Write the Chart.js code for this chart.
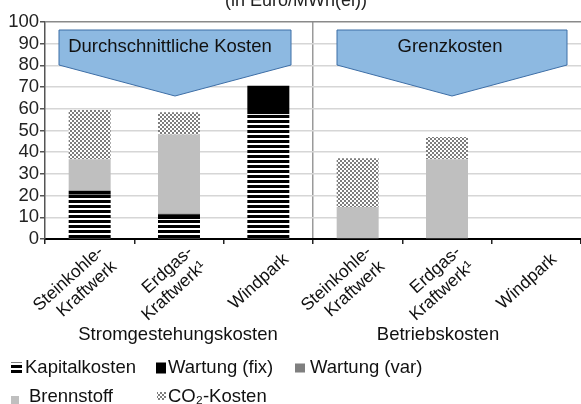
<!DOCTYPE html>
<html>
<head>
<meta charset="utf-8">
<script src="https://cdn.jsdelivr.net/npm/chart.js@4.4.1/dist/chart.umd.min.js"></script>
<style>
  html, body { margin: 0; padding: 0; background: #fff; }
</style>
</head>
<body>
<canvas id="kosten_chart" width="581" height="404"></canvas>
<script>
// data (Euro/MWh(el))
const categories = [['Steinkohle-', 'Kraftwerk'], ['Erdgas-', 'Kraftwerk¹'], 'Windpark',
                    ['Steinkohle-', 'Kraftwerk'], ['Erdgas-', 'Kraftwerk¹'], 'Windpark'];
const groupLabels = ['Stromgestehungskosten', 'Betriebskosten'];
const kapitalkosten = [20.4, 9.2, 57.5, 0, 0, 0];
const wartungFix    = [1.7, 2.2, 13.1, 0, 0, 0];
const wartungVar    = [0.4, 0.4, 0, 0.4, 0.4, 0];
const brennstoff    = [14.3, 36.3, 0, 14.3, 36.3, 0];
const co2Kosten     = [22.7, 10.3, 0, 22.5, 10.3, 0];
const yTicks = [0, 10, 20, 30, 40, 50, 60, 70, 80, 90, 100];
const calloutLabels = ['Durchschnittliche Kosten', 'Grenzkosten'];
const unitLabel = '(in Euro/MWh(el))';

const FONT = '"Liberation Sans", Arial, sans-serif';
const canvas = document.getElementById('kosten_chart');
const ctx = canvas.getContext('2d');

const makePattern = (w, h, draw) => {
  const c = document.createElement('canvas');
  c.width = w; c.height = h;
  draw(c.getContext('2d'));
  return ctx.createPattern(c, 'repeat');
};
const stripes = makePattern(4, 5, g => {
  g.fillStyle = '#fff'; g.fillRect(0, 0, 4, 5);
  g.fillStyle = '#000'; g.fillRect(0, 0, 4, 3);
});
const checker = makePattern(4, 4, g => {
  g.fillStyle = '#fff'; g.fillRect(0, 0, 4, 4);
  g.fillStyle = '#7d7d7d'; g.fillRect(0, 0, 2, 2); g.fillRect(2, 2, 2, 2);
});

// blue arrow boxes + unit line at the top
const callouts = {
  id: 'callouts',
  afterDatasetsDraw(chart) {
    const c = chart.ctx;
    const boxes = [
      {l: 59, r: 291, tip: 175, tx: 170, text: calloutLabels[0]},
      {l: 337, r: 567, tip: 452, tx: 450, text: calloutLabels[1]}
    ];
    c.save();
    boxes.forEach(b => {
      c.beginPath();
      c.moveTo(b.l, 30); c.lineTo(b.r, 30); c.lineTo(b.r, 65);
      c.lineTo(b.tip, 96); c.lineTo(b.l, 65); c.closePath();
      c.fillStyle = '#8db9e1';
      c.fill();
      c.strokeStyle = '#3d6ea6';
      c.lineWidth = 1;
      c.stroke();
      c.fillStyle = '#111';
      c.font = '18.5px ' + FONT;
      c.textAlign = 'center';
      c.textBaseline = 'middle';
      c.fillText(b.text, b.tx, 47);
    });
    c.restore();
  },
  afterDraw(chart) {
    const c = chart.ctx;
    c.save();
    c.fillStyle = '#222';
    c.font = '18px ' + FONT;
    c.textAlign = 'center';
    c.textBaseline = 'alphabetic';
    c.fillText(unitLabel, 296, 6);
    // group names under the axis
    c.fillStyle = '#111';
    c.font = '18.5px ' + FONT;
    c.textBaseline = 'middle';
    c.fillText(groupLabels[0], 178, 335);
    c.fillText(groupLabels[1], 438, 335);
    c.restore();
  }
};

// slanted category names, block centred under each tick
const slantedLabels = {
  id: 'slantedLabels',
  afterDraw(chart) {
    const sx = chart.scales.x;
    const c = chart.ctx;
    const lh = 20;
    c.save();
    c.font = '17.5px ' + FONT;
    c.fillStyle = '#111';
    c.textAlign = 'right';
    c.textBaseline = 'middle';
    sx.ticks.forEach((t, i) => {
      const lines = [].concat(chart.data.labels[i]);
      c.save();
      c.translate(sx.getPixelForTick(i) + 18, sx.top + 18);
      c.rotate(-42 * Math.PI / 180);
      lines.forEach((ln, j) => c.fillText(ln, 0, (j - (lines.length - 1) / 2) * lh));
      c.restore();
    });
    c.restore();
  }
};

// legend in two rows like the original
const legendRows = {
  id: 'legendRows',
  afterDraw(chart) {
    const c = chart.ctx;
    const slots = [
      {x: 11, y: 368, w: 11, h: 11, t: 25},
      {x: 156, y: 368, w: 10, h: 11, t: 168},
      {x: 295, y: 368, w: 10, h: 9, t: 310},
      {x: 11, y: 400, w: 8, h: 8, t: 29},
      {x: 157, y: 396, w: 9, h: 8, t: 168}
    ];
    c.save();
    c.font = '18.5px ' + FONT;
    c.textBaseline = 'middle';
    c.textAlign = 'left';
    chart.data.datasets.forEach((ds, i) => {
      const s = slots[i];
      c.fillStyle = ds.backgroundColor;
      c.fillRect(s.x, s.y - s.h / 2, s.w, s.h);
      c.fillStyle = '#111';
      c.fillText(ds.label, s.t, i < 3 ? s.y : 397);
    });
    c.restore();
  }
};

new Chart(canvas, {
  type: 'bar',
  data: {
    labels: categories,
    datasets: [
      {label: 'Kapitalkosten', data: kapitalkosten, backgroundColor: stripes},
      {label: 'Wartung (fix)', data: wartungFix, backgroundColor: '#000000'},
      {label: 'Wartung (var)', data: wartungVar, backgroundColor: '#7f7f7f'},
      {label: 'Brennstoff', data: brennstoff, backgroundColor: '#bfbfbf'},
      {label: 'CO₂-Kosten', data: co2Kosten, backgroundColor: checker}
    ]
  },
  options: {
    responsive: false,
    animation: false,
    layout: {padding: {top: 22, right: 0, bottom: 0, left: 0}},
    datasets: {bar: {barPercentage: 0.47, categoryPercentage: 1, borderWidth: 0}},
    plugins: {
      legend: {display: false},
      tooltip: {enabled: false},
      title: {display: false}
    },
    scales: {
      x: {
        stacked: true,
        afterFit: s => { s.height = 165; },
        border: {color: '#000', width: 2},
        grid: {
          offset: true,
          drawOnChartArea: true,
          color: c => c.index === 3 ? '#9a9a9a' : 'rgba(0,0,0,0)',
          lineWidth: 1.5,
          tickColor: '#222',
          tickLength: 5
        },
        ticks: {display: false, autoSkip: false}
      },
      y: {
        stacked: true,
        min: 0,
        max: 100,
        afterFit: s => { s.width = 45; },
        afterBuildTicks: s => { s.ticks = yTicks.map(v => ({value: v})); },
        border: {color: '#555', width: 1.5},
        grid: {
          color: c => c.tick && c.tick.value === 100 ? '#8a8a8a' : '#d6d6d6',
          lineWidth: 1.5,
          tickColor: '#555',
          tickLength: 5
        },
        ticks: {
          color: '#222',
          font: {family: FONT, size: 18.5},
          padding: 1,
          autoSkip: false
        }
      }
    }
  },
  plugins: [callouts, slantedLabels, legendRows]
});
</script>
</body>
</html>
